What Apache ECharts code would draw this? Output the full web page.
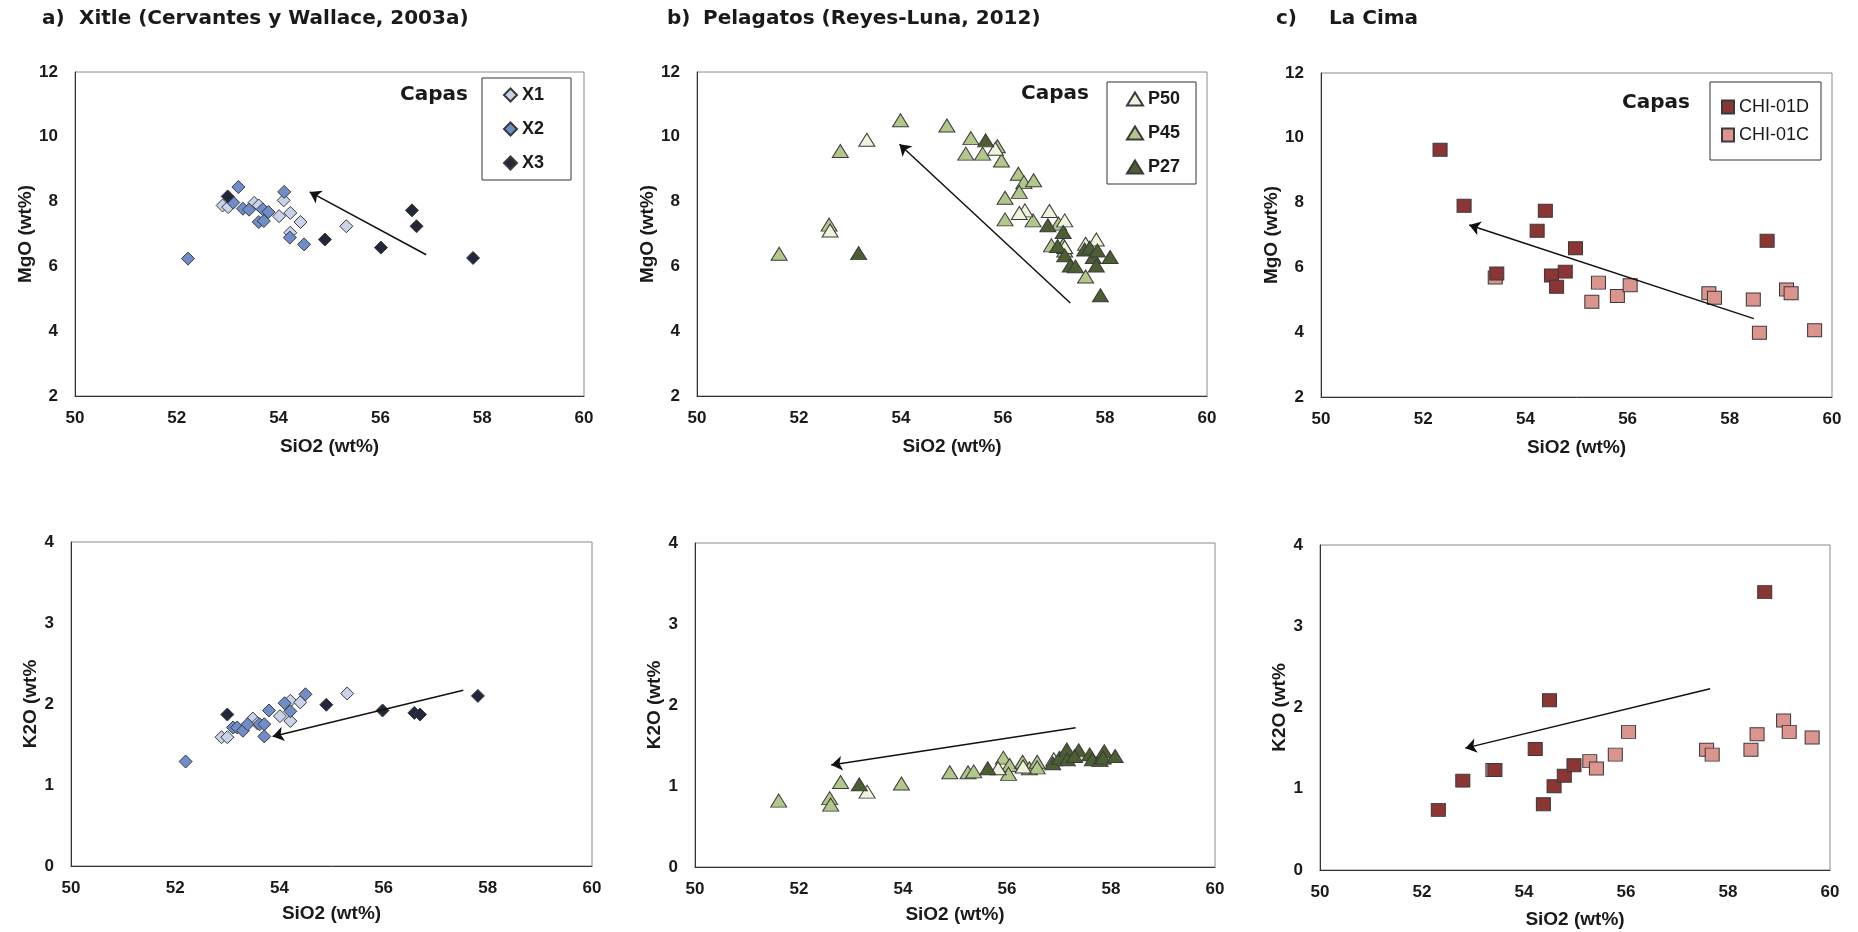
<!DOCTYPE html>
<html>
<head>
<meta charset="utf-8">
<script src="https://cdn.jsdelivr.net/npm/echarts@6/dist/echarts.min.js"></script>
<style>
  html, body { margin: 0; background: #fff; }
  #chart { width: 1858px; height: 932px; }
</style>
</head>
<body>
<div id="chart"></div>
<script>
// --- data: [SiO2, oxide] pairs ---
const x1MgO = [[52.90,7.88],[53.01,7.83],[53.52,7.96],[53.61,7.88],[54.10,8.04],[54.01,7.55],[54.23,7.65],[54.43,7.37],[54.23,7.04],[55.33,7.24]];
const x2MgO = [[52.22,6.24],[53.21,8.45],[53.11,7.97],[53.30,7.78],[53.42,7.75],[53.69,7.76],[53.80,7.68],[53.61,7.37],[53.71,7.40],[54.11,8.30],[54.22,6.89],[54.50,6.68]];
const x3MgO = [[53.00,8.16],[54.91,6.83],[56.01,6.58],[56.62,7.73],[56.71,7.24],[57.82,6.26]];

const x1K2O = [[52.89,1.59],[53.00,1.59],[53.49,1.82],[54.01,1.85],[54.21,2.04],[54.21,1.79],[54.40,2.02],[55.30,2.13],[53.58,1.76]];
const x2K2O = [[52.20,1.29],[53.11,1.71],[53.19,1.71],[53.30,1.67],[53.39,1.75],[53.62,1.75],[53.71,1.75],[53.71,1.60],[53.80,1.92],[54.10,2.01],[54.21,1.91],[54.50,2.12]];
const x3K2O = [[53.00,1.87],[54.90,1.99],[55.98,1.92],[56.59,1.89],[56.70,1.87],[57.81,2.10]];

const p50MgO = [[53.33,9.91],[55.85,9.63],[56.43,7.73],[56.32,7.65],[56.91,7.71],[57.21,7.42],[57.62,6.70],[57.83,6.83],[52.61,7.11],[57.21,6.60]];
const p45MgO = [[51.61,6.39],[52.59,7.29],[52.81,9.56],[53.99,10.51],[54.90,10.35],[55.37,9.96],[55.27,9.48],[55.60,9.48],[55.89,9.71],[55.97,9.27],[56.30,8.86],[56.41,8.60],[56.60,8.66],[56.04,8.12],[56.32,8.30],[56.04,7.45],[56.59,7.42],[57.09,7.32],[56.95,6.65],[57.18,6.67],[57.62,5.69],[57.21,6.49]];
const p27MgO = [[53.17,6.41],[55.66,9.89],[56.88,7.27],[57.18,7.06],[57.07,6.63],[57.21,6.34],[57.32,6.03],[57.42,6.00],[57.60,6.52],[57.70,6.58],[57.77,6.29],[57.83,6.03],[57.85,6.49],[58.10,6.29],[57.91,5.11]];

const p45K2O = [[51.61,0.82],[52.59,0.85],[52.61,0.77],[52.80,1.05],[53.97,1.03],[54.90,1.17],[55.25,1.17],[55.36,1.18],[55.93,1.35],[56.05,1.26],[56.03,1.15],[56.30,1.30],[56.43,1.22],[56.58,1.30],[56.58,1.23]];
const p50K2O = [[53.31,0.93],[55.83,1.22],[56.31,1.24],[56.90,1.33]];
const p27K2O = [[53.16,1.02],[55.63,1.22],[56.88,1.28],[57.01,1.35],[57.15,1.45],[57.16,1.33],[57.38,1.44],[57.30,1.37],[57.59,1.39],[57.64,1.33],[57.79,1.32],[57.87,1.43],[57.85,1.35],[58.08,1.37]];

const chiDMgO = [[52.33,9.63],[52.80,7.90],[54.39,7.75],[54.23,7.13],[54.98,6.59],[53.44,5.81],[54.51,5.75],[54.78,5.87],[54.61,5.40],[58.73,6.82]];
const chiCMgO = [[53.41,5.69],[55.43,5.53],[55.30,4.94],[55.80,5.12],[56.05,5.45],[57.59,5.20],[57.70,5.06],[58.46,5.01],[58.58,3.98],[59.11,5.32],[59.20,5.20],[59.66,4.06]];
const chiDK2O = [[52.32,0.74],[52.80,1.10],[53.43,1.23],[54.50,2.09],[54.22,1.49],[54.38,0.81],[54.59,1.03],[54.79,1.16],[54.98,1.29],[58.72,3.42]];
const chiCK2O = [[53.39,1.23],[55.29,1.34],[55.42,1.25],[55.79,1.42],[56.05,1.70],[57.58,1.48],[57.69,1.42],[58.45,1.48],[58.57,1.67],[59.09,1.84],[59.20,1.70],[59.65,1.63]];

// trend arrows: [start, end]
const arrowMgOXitle = [[56.90,6.36],[54.61,8.30]];
const arrowMgOPela  = [[57.32,4.87],[53.97,9.77]];
const arrowMgOCima  = [[58.47,4.42],[52.90,7.31]];
const arrowK2OXitle = [[57.53,2.17],[53.87,1.60]];
const arrowK2OPela  = [[57.32,1.72],[52.62,1.26]];
const arrowK2OCima  = [[57.65,2.23],[52.85,1.50]];

const panelTitles = ['Xitle (Cervantes y Wallace, 2003a)', 'Pelagatos (Reyes-Luna, 2012)', 'La Cima'];
const panelLetters = ['a)', 'b)', 'c)'];

// --- layout ---
const grids = [
  {left: 75,   top: 72,  width: 509, height: 324},
  {left: 697,  top: 72,  width: 510, height: 324},
  {left: 1321, top: 73,  width: 511, height: 324},
  {left: 71,   top: 542, width: 521, height: 324},
  {left: 695,  top: 543, width: 520, height: 324},
  {left: 1320, top: 545, width: 510, height: 325}
];
const xNameGap = [41, 41, 41, 38, 38, 40];
const yNameGap = [39, 37, 39, 30, 30, 29];

const tickFont = {fontFamily: 'Liberation Sans', fontWeight: 'bold', fontSize: 17, color: '#1a1a1a'};
const nameFont = {fontFamily: 'Liberation Sans', fontWeight: 'bold', fontSize: 19, color: '#1a1a1a'};

const xAxes = grids.map((g, i) => ({
  gridIndex: i, type: 'value', min: 50, max: 60, interval: 2,
  name: 'SiO2 (wt%)', nameLocation: 'middle', nameGap: xNameGap[i], nameTextStyle: nameFont,
  axisLine: {show: true, onZero: false, lineStyle: {color: '#333', width: 1}},
  axisTick: {show: false}, splitLine: {show: false},
  axisLabel: Object.assign({margin: 14}, tickFont)
}));
const yAxes = grids.map((g, i) => ({
  gridIndex: i, type: 'value',
  min: i < 3 ? 2 : 0, max: i < 3 ? 12 : 4, interval: i < 3 ? 2 : 1,
  name: i < 3 ? 'MgO (wt%)' : 'K2O (wt%', nameLocation: 'middle', nameGap: yNameGap[i], nameTextStyle: nameFont,
  axisLine: {show: true, onZero: false, lineStyle: {color: '#333', width: 1}},
  axisTick: {show: false}, splitLine: {show: false},
  axisLabel: Object.assign({margin: 17}, tickFont)
}));

function pts(name, data, gi, symbol, size, color) {
  return {
    type: 'scatter', name: name, data: data, xAxisIndex: gi, yAxisIndex: gi,
    symbol: symbol, symbolSize: size,
    itemStyle: {color: color, borderColor: '#3a3a3a', borderWidth: 1, opacity: 1},
    emphasis: {disabled: true}
  };
}
function arrow(coords, gi) {
  return {
    type: 'lines', coordinateSystem: 'cartesian2d', xAxisIndex: gi, yAxisIndex: gi,
    data: [{coords: coords}], symbol: ['none', 'arrow'], symbolSize: [0, 11],
    lineStyle: {color: '#111', width: 1.5, opacity: 1, curveness: 0}, z: 5, silent: true
  };
}

const DIA = [13, 13], TRI = [16, 13], SQ = [14, 13];
const cX1 = '#c8d2e8', cX2 = '#6f8dc9', cX3 = '#23273a';
const cP50 = '#eef3dc', cP45 = '#b2c88a', cP27 = '#4c5f33';
const cD = '#8b3535', cC = '#db958e';

const series = [
  pts('X1', x1MgO, 0, 'diamond', DIA, cX1),
  pts('X2', x2MgO, 0, 'diamond', DIA, cX2),
  pts('X3', x3MgO, 0, 'diamond', DIA, cX3),
  pts('P45', p45MgO, 1, 'triangle', TRI, cP45),
  pts('P50', p50MgO, 1, 'triangle', TRI, cP50),
  pts('P27', p27MgO, 1, 'triangle', TRI, cP27),
  pts('CHI-01C', chiCMgO, 2, 'rect', SQ, cC),
  pts('CHI-01D', chiDMgO, 2, 'rect', SQ, cD),
  pts('X1', x1K2O, 3, 'diamond', DIA, cX1),
  pts('X2', x2K2O, 3, 'diamond', DIA, cX2),
  pts('X3', x3K2O, 3, 'diamond', DIA, cX3),
  pts('P45', p45K2O, 4, 'triangle', TRI, cP45),
  pts('P50', p50K2O, 4, 'triangle', TRI, cP50),
  pts('P27', p27K2O, 4, 'triangle', TRI, cP27),
  pts('CHI-01C', chiCK2O, 5, 'rect', SQ, cC),
  pts('CHI-01D', chiDK2O, 5, 'rect', SQ, cD),
  arrow(arrowMgOXitle, 0), arrow(arrowMgOPela, 1), arrow(arrowMgOCima, 2),
  arrow(arrowK2OXitle, 3), arrow(arrowK2OPela, 4), arrow(arrowK2OCima, 5)
];

const titleFont = {fontFamily: 'DejaVu Sans', fontWeight: 'bold', fontSize: 20, color: '#1a1a1a'};
const titles = [
  {text: panelLetters[0], left: 42, top: 9},
  {text: panelTitles[0], left: 79, top: 9},
  {text: panelLetters[1], left: 667, top: 9},
  {text: panelTitles[1], left: 703, top: 9},
  {text: panelLetters[2], left: 1276, top: 9},
  {text: panelTitles[2], left: 1329, top: 9},
  {text: 'Capas', left: 400, top: 85},
  {text: 'Capas', left: 1021, top: 84},
  {text: 'Capas', left: 1622, top: 93}
].map(t => Object.assign({padding: 0, textStyle: titleFont}, t));

const legendText = {fontFamily: 'Liberation Sans', fontWeight: 'bold', fontSize: 18, color: '#1a1a1a', lineHeight: 20};
const legendBase = {orient: 'vertical', borderColor: '#333', borderWidth: 1, selectedMode: false, backgroundColor: '#fff'};
const legends = [
  Object.assign({}, legendBase, {data: ['X1', 'X2', 'X3'], left: 482, top: 78, padding: [7, 27, 7, 21],
    itemGap: 14, itemWidth: 13, itemHeight: 13, textStyle: legendText}),
  Object.assign({}, legendBase, {data: ['P50', 'P45', 'P27'], left: 1107, top: 82, padding: [7, 16, 7, 19],
    itemGap: 14, itemWidth: 16, itemHeight: 13, textStyle: legendText}),
  Object.assign({}, legendBase, {data: ['CHI-01D', 'CHI-01C'], left: 1710, top: 82, padding: [15, 12, 15, 11],
    itemGap: 8, itemWidth: 12, itemHeight: 13,
    textStyle: Object.assign({}, legendText, {fontWeight: 'normal'})})
];

const chart = echarts.init(document.getElementById('chart'));
chart.setOption({
  animation: false,
  backgroundColor: '#fff',
  title: titles,
  legend: legends,
  grid: grids.map(g => Object.assign({show: true, borderColor: '#8a8a8a', borderWidth: 1, containLabel: false}, g)),
  xAxis: xAxes,
  yAxis: yAxes,
  series: series
});
</script>
</body>
</html>
